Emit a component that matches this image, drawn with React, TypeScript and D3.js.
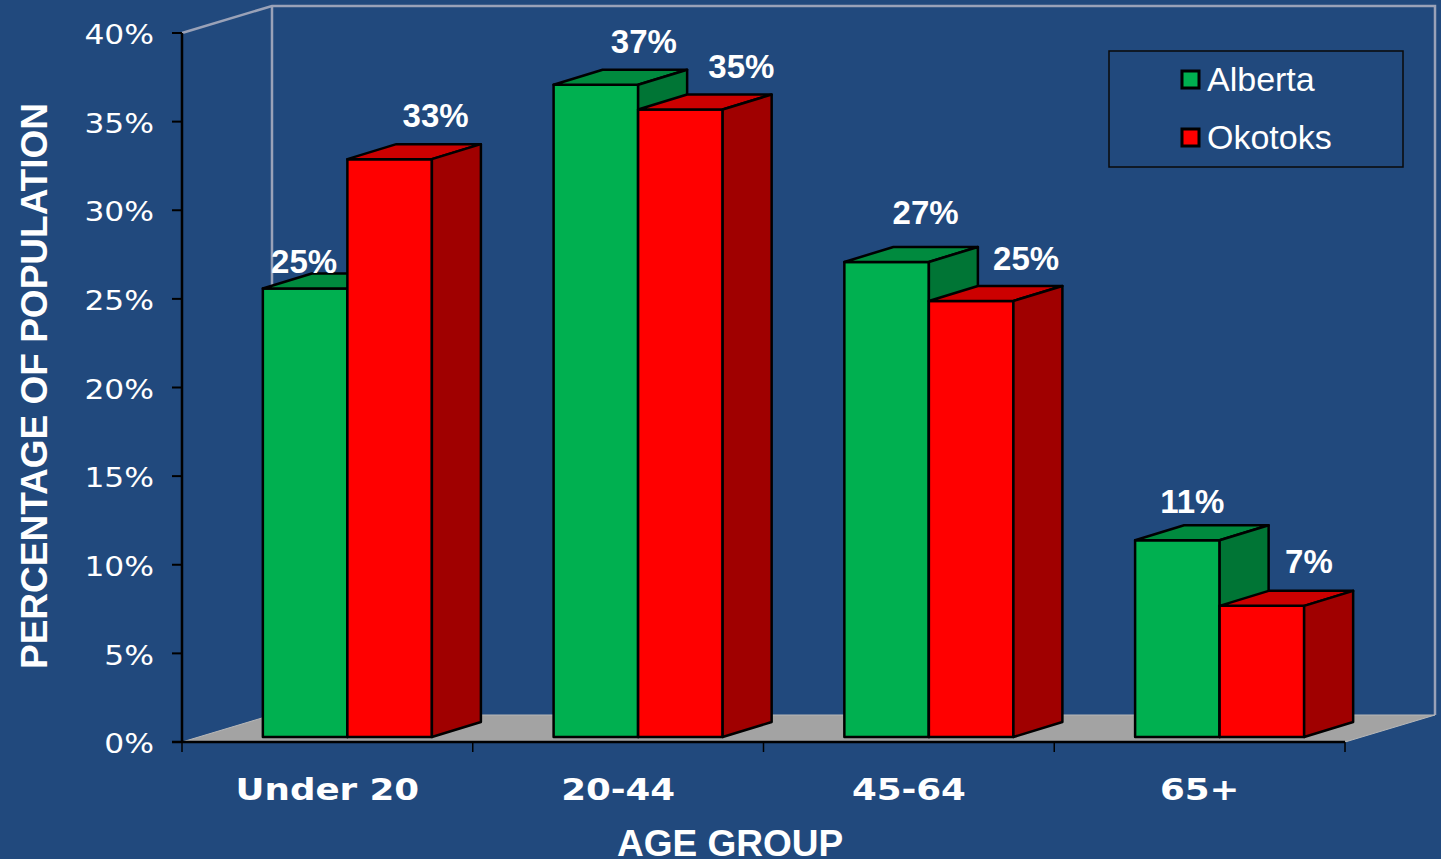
import React from "react";
import * as d3 from "d3";

const categories = ["Under 20", "20-44", "45-64", "65+"];
const seriesNames = ["Alberta", "Okotoks"];
const alberta = [25.3, 36.8, 26.8, 11.1];
const okotoks = [32.6, 35.4, 24.6, 7.4];
const yTicks = [0, 5, 10, 15, 20, 25, 30, 35, 40];

// layout (not data)
const W = 1441, H = 859;
const BG = "#21497D";
const FRONT_COLORS = ["#00B050", "#FF0000"];
const TOP_COLORS = ["#008A3E", "#CC0000"];
const SIDE_COLORS = ["#007535", "#A00000"];
const WALL = [90, -27];       // depth vector of the plot box
const BAR_SHIFT = [20, -5];   // bar front plane inside the box
const BAR_DEPTH = [49, -15];  // bar depth
const labelNudge = [
  [[-50, 16], [-3, 0]],
  [[-1, 0], [12, 0]],
  [[-10, -6], [6, 1]],
  [[-34, 5], [-2, -1]],
];

export default function App() {
  const x = d3.scaleBand<string>().domain(categories).range([182, 1345]).padding(0);
  const sub = d3.scaleBand<string>().domain(seriesNames).range([0, x.bandwidth()]).paddingInner(0).paddingOuter(0.72);
  const y = d3.scaleLinear().domain([0, 40]).range([742, 33]);
  const series = [alberta, okotoks];

  const x0 = x.range()[0], x1 = x.range()[1];
  const y0 = y(0), yTop = y(40);
  const [wx, wy] = WALL;

  const pts = (a: number[][]) => a.map((p) => p.join(",")).join(" ");

  const bars: JSX.Element[] = [];
  const labels: JSX.Element[] = [];
  categories.forEach((c, ci) => {
    seriesNames.forEach((s, si) => {
      const v = series[si][ci];
      const bw = sub.bandwidth();
      const L = (x(c) as number) + (sub(s) as number) + BAR_SHIFT[0];
      const R = L + bw;
      const B = y0 + BAR_SHIFT[1];
      const T = y(v) + BAR_SHIFT[1];
      const [dx, dy] = BAR_DEPTH;
      const common = { stroke: "#000", strokeWidth: 2.5, strokeLinejoin: "round" as const };
      bars.push(
        <g key={`${c}-${s}`}>
          <polygon points={pts([[L, B], [R, B], [R, T], [L, T]])} fill={FRONT_COLORS[si]} {...common} />
          <polygon points={pts([[L, T], [R, T], [R + dx, T + dy], [L + dx, T + dy]])} fill={TOP_COLORS[si]} {...common} />
          <polygon points={pts([[R, B], [R + dx, B + dy], [R + dx, T + dy], [R, T]])} fill={SIDE_COLORS[si]} {...common} />
        </g>
      );
      const n = labelNudge[ci][si];
      labels.push(
        <text
          key={`l-${c}-${s}`}
          x={(L + R) / 2 + dx + n[0]}
          y={T + dy - 17 + n[1]}
          textAnchor="middle"
          fill="#fff"
          fontFamily="'Liberation Sans', Arial, sans-serif"
          fontWeight="bold"
          fontSize={33}
        >
          {`${Math.round(v)}%`}
        </text>
      );
    });
  });

  const wallStroke = "#9aa2b8";

  return (
    <svg width={W} height={H} style={{ position: "absolute", left: 0, top: 0, display: "block" }}>
      <rect x={0} y={0} width={W} height={H} fill={BG} />
      {/* walls */}
      <polyline points={pts([[x0, yTop], [x0 + wx, yTop + wy], [x1 + wx, yTop + wy], [x1 + wx, y0 + wy]])} fill="none" stroke={wallStroke} strokeWidth={2.5} />
      <line x1={x0 + wx} y1={yTop + wy} x2={x0 + wx} y2={y0 + wy} stroke={wallStroke} strokeWidth={2.5} />
      {/* floor */}
      <polygon points={pts([[x0, y0], [x0 + wx, y0 + wy], [x1 + wx, y0 + wy], [x1, y0]])} fill="#A3A3A3" stroke="#b8b8b8" strokeWidth={1} />
      {bars}
      {/* axes */}
      <line x1={x0} y1={yTop} x2={x0} y2={y0} stroke="#000" strokeWidth={2.5} />
      <line x1={x0 - 10} y1={y0} x2={x1} y2={y0} stroke="#000" strokeWidth={2.5} />
      {yTicks.map((t) => (
        <g key={t}>
          <line x1={x0 - 10} x2={x0} y1={y(t)} y2={y(t)} stroke="#000" strokeWidth={2} />
          <text
            transform={`translate(154,${y(t) + 2}) scale(1.16,1)`}
            textAnchor="end"
            dominantBaseline="central"
            fill="#fff"
            fontFamily="'DejaVu Sans', Verdana, sans-serif"
            fontSize={27}
          >
            {`${t}%`}
          </text>
        </g>
      ))}
      {[...categories.map((c) => x(c) as number), x1].map((v, i) => (
        <line key={i} x1={v} x2={v} y1={y0} y2={y0 + 10} stroke="#000" strokeWidth={1.5} />
      ))}
      {categories.map((c) => (
        <text
          key={c}
          transform={`translate(${(x(c) as number) + x.bandwidth() / 2},800) scale(1.15,1)`}
          textAnchor="middle"
          fill="#fff"
          fontFamily="'DejaVu Sans', Verdana, sans-serif"
          fontWeight="bold"
          fontSize={31}
        >
          {c}
        </text>
      ))}
      {labels}
      {/* titles */}
      <text
        transform="translate(47,386) rotate(-90)"
        textAnchor="middle"
        fill="#fff"
        fontFamily="'Liberation Sans', Arial, sans-serif"
        fontWeight="bold"
        fontSize={37}
      >
        PERCENTAGE OF POPULATION
      </text>
      <text x={730} y={856} textAnchor="middle" fill="#fff" fontFamily="'Liberation Sans', Arial, sans-serif" fontWeight="bold" fontSize={37}>
        AGE GROUP
      </text>
      {/* legend */}
      <rect x={1109} y={51} width={294} height={116} fill="none" stroke="#0a0a0a" strokeWidth={1.5} />
      {seriesNames.map((s, i) => (
        <g key={s}>
          <rect x={1182} y={71 + i * 58} width={17} height={17} fill={FRONT_COLORS[i]} stroke="#000" strokeWidth={3} />
          <text x={1207} y={91 + i * 58} fill="#fff" fontFamily="'Liberation Sans', Arial, sans-serif" fontSize={34}>
            {s}
          </text>
        </g>
      ))}
    </svg>
  );
}
